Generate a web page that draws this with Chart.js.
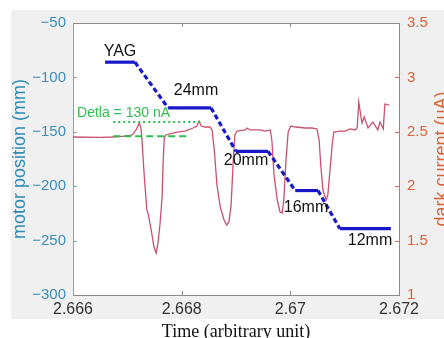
<!DOCTYPE html>
<html lang="en">
<head>
<meta charset="UTF-8">
<title>Motor position / dark current</title>
<script src="https://cdn.jsdelivr.net/npm/chart.js"></script>
<style>
  html, body { margin: 0; padding: 0; background: #fff; }
  #wrap { width: 444px; height: 338px; }
</style>
</head>
<body>
<div id="wrap"><canvas id="grafico"></canvas></div>
<script>
// motor position (left axis, mm)
const motorTime = [2.66659, 2.66714, 2.66775, 2.66854, 2.66900, 2.66959, 2.67009, 2.67051, 2.67091, 2.67185];
const motorPos  = [-86, -86, -128, -128, -168, -168, -204, -204, -239, -239];

// dark current (right axis, uA)
const currentTime = [
  2.66600, 2.66650, 2.66672, 2.66696, 2.66709, 2.66716, 2.66722, 2.66725, 2.66727, 2.66731,
  2.66736, 2.66738, 2.66744, 2.66749, 2.66753, 2.66756, 2.66760, 2.66764, 2.66766, 2.66768,
  2.66771, 2.66791, 2.66806, 2.66821, 2.66828, 2.66832, 2.66836, 2.66843, 2.66852, 2.66856,
  2.66860, 2.66865, 2.66871, 2.66878, 2.66883, 2.66887, 2.66891, 2.66895, 2.66898, 2.66902,
  2.66917, 2.66920, 2.66926, 2.66944, 2.66953, 2.66963, 2.66966, 2.66970, 2.66976, 2.66981,
  2.66985, 2.66988, 2.66992, 2.66996, 2.67001, 2.67010, 2.67027, 2.67040, 2.67049, 2.67053,
  2.67056, 2.67060, 2.67066, 2.67069, 2.67073, 2.67077, 2.67080, 2.67091, 2.67101, 2.67110,
  2.67119, 2.67123, 2.67126, 2.67130, 2.67132, 2.67136, 2.67143, 2.67152, 2.67161, 2.67165,
  2.67171, 2.67174, 2.67182
];
const darkCurrent = [
  2.452, 2.448, 2.452, 2.461, 2.471, 2.517, 2.581, 2.535, 2.425, 2.103,
  1.781, 1.754, 1.597, 1.441, 1.386, 1.460, 1.643, 1.901, 2.241, 2.443,
  2.471, 2.498, 2.507, 2.535, 2.553, 2.599, 2.553, 2.544, 2.544, 2.517,
  2.333, 2.011, 1.809, 1.689, 1.643, 1.671, 1.827, 2.241, 2.471, 2.507,
  2.517, 2.535, 2.517, 2.517, 2.507, 2.517, 2.425, 2.103, 1.873, 1.763,
  1.754, 1.873, 2.241, 2.498, 2.553, 2.544, 2.535, 2.535, 2.526, 2.425,
  2.195, 1.965, 1.873, 1.919, 2.149, 2.379, 2.498, 2.507, 2.507, 2.526,
  2.517, 2.535, 2.774, 2.636, 2.581, 2.636, 2.535, 2.590, 2.517, 2.590,
  2.526, 2.756, 2.746
];

// green reference levels (dotted = peak, dashed = baseline)
const refStart = [2.66674, 2.66674];
const refEnd   = [2.66834, 2.66812];
const refLevel = [2.59, 2.46];

// tick labels
const xTicks     = [2.666, 2.668, 2.67, 2.672];
const leftTicks  = [-300, -250, -200, -150, -100, -50];
const rightTicks = [1, 1.5, 2, 2.5, 3, 3.5];

// texts
const stepLabels = ['YAG', '24mm', '20mm', '16mm', '12mm'];
const deltaLabel = 'Detla = 130 nA';

// where the texts sit (time, mm)
const stepLabelAt = [[2.666865, -76.7], [2.668264, -112.5], [2.669184, -176.8], [2.670288, -220.0], [2.671466, -250.4]];

const sans = '"Liberation Sans", Arial, sans-serif';
const corAzul = '#1818c8';
const corVermelho = '#c9506f';
const corVerde = '#2fbf50';
const corEixoEsq = '#3b8dba';
const corEixoDir = '#d8643c';

function pontos(xs, ys) {
  return xs.map((x, i) => ({ x: x, y: ys[i] }));
}

const fundo = {
  id: 'fundo',
  beforeDraw(chart) {
    const { ctx, chartArea: a } = chart;
    ctx.save();
    ctx.fillStyle = '#fff';
    ctx.fillRect(0, 0, chart.width, chart.height);
    ctx.fillStyle = '#f0f0f0';
    ctx.fillRect(11, 10, chart.width - 11, 309);
    ctx.fillStyle = '#fff';
    ctx.fillRect(a.left, a.top, a.right - a.left, a.bottom - a.top);
    ctx.restore();
  }
};

const textos = {
  id: 'textos',
  afterDatasetsDraw(chart) {
    const { ctx, scales } = chart;
    ctx.save();
    ctx.fillStyle = '#111';
    ctx.font = '16px ' + sans;
    ctx.textAlign = 'center';
    ctx.textBaseline = 'middle';
    stepLabels.forEach((t, i) => {
      ctx.fillText(t, scales.x.getPixelForValue(stepLabelAt[i][0]), scales.y.getPixelForValue(stepLabelAt[i][1]));
    });
    ctx.fillStyle = corVerde;
    ctx.font = '14px ' + sans;
    ctx.textAlign = 'left';
    ctx.fillText(deltaLabel, scales.x.getPixelForValue(2.666074), scales.y2.getPixelForValue(2.673));
    ctx.restore();
  },
  afterDraw(chart) {
    const { ctx, chartArea: a, scales } = chart;
    ctx.save();
    // top border
    ctx.strokeStyle = '#8a8a8a';
    ctx.lineWidth = 1;
    ctx.beginPath();
    ctx.moveTo(a.left, a.top + 0.5);
    ctx.lineTo(a.right, a.top + 0.5);
    ctx.stroke();
    // inner tick marks
    const tl = 4;
    ctx.beginPath();
    xTicks.slice(1, -1).forEach(v => {
      const px = Math.round(scales.x.getPixelForValue(v)) + 0.5;
      ctx.moveTo(px, a.bottom); ctx.lineTo(px, a.bottom - tl);
      ctx.moveTo(px, a.top); ctx.lineTo(px, a.top + tl);
    });
    ctx.stroke();
    ctx.strokeStyle = '#7fa6bf';
    ctx.beginPath();
    leftTicks.slice(1, -1).forEach(v => {
      const py = Math.round(scales.y.getPixelForValue(v)) + 0.5;
      ctx.moveTo(a.left, py); ctx.lineTo(a.left + tl, py);
    });
    ctx.stroke();
    ctx.strokeStyle = '#d46a6a';
    ctx.beginPath();
    rightTicks.slice(1, -1).forEach(v => {
      const py = Math.round(scales.y2.getPixelForValue(v)) + 0.5;
      ctx.moveTo(a.right, py); ctx.lineTo(a.right - tl, py);
    });
    ctx.stroke();

    // axis titles
    const meio = (a.top + a.bottom) / 2;
    ctx.textAlign = 'center';
    ctx.textBaseline = 'middle';
    ctx.font = '18px ' + sans;
    ctx.fillStyle = '#2f8cb4';
    ctx.save();
    ctx.translate(20, meio);
    ctx.rotate(-Math.PI / 2);
    ctx.fillText('motor position (mm)', 0, 0);
    ctx.restore();
    ctx.fillStyle = corEixoDir;
    ctx.save();
    ctx.translate(442, meio);
    ctx.rotate(-Math.PI / 2);
    ctx.fillText('dark current (uA)', 0, 0);
    ctx.restore();
    ctx.fillStyle = '#111';
    ctx.font = '18px "Liberation Serif", "Times New Roman", serif';
    ctx.textBaseline = 'alphabetic';
    ctx.fillText('Time (arbitrary unit)', (a.left + a.right) / 2, 337);
    ctx.restore();
  }
};

const dados = {
  datasets: [
    {
      label: 'motor position',
      data: pontos(motorTime, motorPos),
      yAxisID: 'y',
      borderColor: corAzul,
      borderWidth: 3.2,
      pointRadius: 0,
      segment: {
        borderDash: ctx => ctx.p0.parsed.y !== ctx.p1.parsed.y ? [5, 3] : undefined
      }
    },
    {
      label: 'peak',
      data: [{ x: refStart[0], y: refLevel[0] }, { x: refEnd[0], y: refLevel[0] }],
      yAxisID: 'y2',
      borderColor: corVerde,
      borderWidth: 2,
      borderDash: [2, 3],
      pointRadius: 0
    },
    {
      label: 'baseline',
      data: [{ x: refStart[1], y: refLevel[1] }, { x: refEnd[1], y: refLevel[1] }],
      yAxisID: 'y2',
      borderColor: corVerde,
      borderWidth: 2,
      borderDash: [7, 4],
      pointRadius: 0
    },
    {
      label: 'dark current',
      data: pontos(currentTime, darkCurrent),
      yAxisID: 'y2',
      borderColor: corVermelho,
      borderWidth: 1.3,
      pointRadius: 0
    }
  ]
};

new Chart(document.getElementById('grafico'), {
  type: 'line',
  data: dados,
  options: {
    responsive: true,
    maintainAspectRatio: false,
    animation: false,
    layout: { padding: { top: 23, left: 0, right: 0, bottom: 0 } },
    plugins: { legend: { display: false }, tooltip: { enabled: false } },
    scales: {
      x: {
        type: 'linear',
        position: 'bottom',
        min: 2.666,
        max: 2.672,
        afterBuildTicks: s => { s.ticks = xTicks.map(v => ({ value: v })); },
        afterFit: s => { s.height = 43; },
        grid: { display: false, drawTicks: false },
        border: { display: true, color: '#8a8a8a', width: 1 },
        ticks: {
          color: '#333',
          font: { family: sans, size: 16 },
          padding: 5,
          maxRotation: 0,
          autoSkip: false,
          callback: v => String(v)
        }
      },
      y: {
        position: 'left',
        min: -300,
        max: -50,
        afterBuildTicks: s => { s.ticks = leftTicks.map(v => ({ value: v })); },
        afterFit: s => { s.width = 73; },
        grid: { display: false, drawTicks: false },
        border: { display: true, color: '#7fa6bf', width: 1 },
        ticks: {
          color: corEixoEsq,
          font: { family: sans, size: 15 },
          padding: 7,
          autoSkip: false,
          callback: v => '\u2212' + Math.abs(v)
        }
      },
      y2: {
        position: 'right',
        min: 1,
        max: 3.5,
        afterBuildTicks: s => { s.ticks = rightTicks.map(v => ({ value: v })); },
        afterFit: s => { s.width = 45; },
        grid: { display: false, drawTicks: false },
        border: { display: true, color: '#d46a6a', width: 1 },
        ticks: {
          color: corEixoDir,
          font: { family: sans, size: 15 },
          padding: 8,
          autoSkip: false,
          callback: v => String(v)
        }
      }
    }
  },
  plugins: [fundo, textos]
});
</script>
</body>
</html>
